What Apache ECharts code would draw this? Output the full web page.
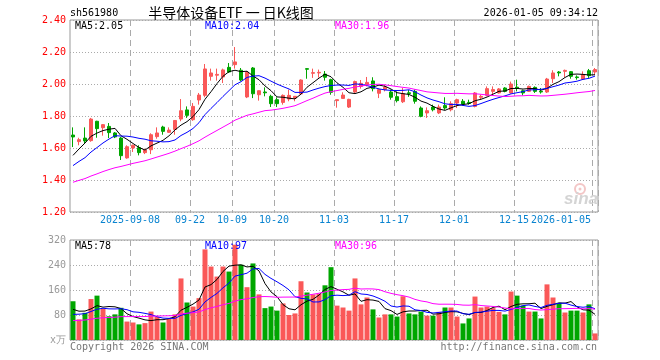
<!DOCTYPE html>
<html><head><meta charset="utf-8">
<script src="https://cdn.jsdelivr.net/npm/echarts@6/dist/echarts.min.js"></script>
<style>html,body{margin:0;padding:0;background:#fff}#c{width:660px;height:360px}</style>
</head><body><div id="c"></div><script>
const dates = [
'2025-08-25','2025-08-26','2025-08-27','2025-08-28','2025-08-29',
'2025-09-01','2025-09-02','2025-09-03','2025-09-04','2025-09-05',
'2025-09-08','2025-09-09','2025-09-10','2025-09-11','2025-09-12',
'2025-09-15','2025-09-16','2025-09-17','2025-09-18','2025-09-19',
'2025-09-22','2025-09-23','2025-09-24','2025-09-25','2025-09-26',
'2025-09-29','2025-09-30','2025-10-09','2025-10-10',
'2025-10-13','2025-10-14','2025-10-15','2025-10-16','2025-10-17',
'2025-10-20','2025-10-21','2025-10-22','2025-10-23','2025-10-24',
'2025-10-27','2025-10-28','2025-10-29','2025-10-30','2025-10-31',
'2025-11-03','2025-11-04','2025-11-05','2025-11-06','2025-11-07',
'2025-11-10','2025-11-11','2025-11-12','2025-11-13','2025-11-14',
'2025-11-17','2025-11-18','2025-11-19','2025-11-20','2025-11-21',
'2025-11-24','2025-11-25','2025-11-26','2025-11-27','2025-11-28',
'2025-12-01','2025-12-02','2025-12-03','2025-12-04','2025-12-05',
'2025-12-08','2025-12-09','2025-12-10','2025-12-11','2025-12-12',
'2025-12-15','2025-12-16','2025-12-17','2025-12-18','2025-12-19',
'2025-12-22','2025-12-23','2025-12-24','2025-12-25','2025-12-26',
'2025-12-29','2025-12-30','2025-12-31','2026-01-05'];

const opens = [1.681,1.640,1.662,1.646,1.767,1.727,1.735,1.694,1.662,1.538,
1.600,1.602,1.571,1.589,1.671,1.731,1.698,1.716,1.781,1.838,
1.777,1.900,1.929,2.048,2.055,2.044,2.104,2.121,2.086,1.919,
2.100,1.933,1.950,1.923,1.902,1.885,1.906,1.913,1.938,2.096,
2.067,2.069,2.062,2.027,1.896,1.910,1.856,1.950,1.985,1.996,
2.019,1.942,1.965,1.950,1.921,1.889,1.945,1.954,1.850,1.819,
1.856,1.819,1.865,1.839,1.881,1.892,1.885,1.860,1.917,1.929,
1.954,1.944,1.975,1.944,1.980,1.958,1.954,1.979,1.954,1.950,
2.033,2.075,2.079,2.077,2.044,2.031,2.083,2.075];
const closes = [1.669,1.652,1.644,1.781,1.721,1.746,1.696,1.669,1.552,1.608,
1.617,1.571,1.588,1.683,1.694,1.704,1.712,1.772,1.833,1.804,
1.860,1.931,2.094,2.069,2.060,2.088,2.075,2.138,2.025,2.073,
1.939,1.958,1.945,1.877,1.877,1.929,1.929,1.923,2.025,2.092,
2.071,2.073,2.042,1.948,1.902,1.931,1.904,2.015,2.004,2.010,
1.971,1.965,1.980,1.917,1.896,1.940,1.940,1.892,1.798,1.833,
1.839,1.856,1.850,1.877,1.902,1.875,1.879,1.944,1.923,1.971,
1.965,1.969,1.954,2.000,1.975,1.944,1.985,1.954,1.950,2.031,
2.069,2.069,2.085,2.048,2.040,2.058,2.052,2.090];
const lows = [1.606,1.617,1.631,1.639,1.664,1.677,1.662,1.662,1.525,1.533,
1.575,1.554,1.562,1.562,1.658,1.683,1.694,1.683,1.767,1.788,
1.770,1.871,1.917,2.021,2.021,2.006,2.069,2.096,2.017,1.912,
1.912,1.896,1.923,1.856,1.856,1.871,1.892,1.892,1.933,2.033,
2.038,2.040,2.021,1.933,1.852,1.910,1.850,1.944,1.971,1.985,
1.954,1.912,1.954,1.902,1.885,1.881,1.920,1.877,1.792,1.788,
1.829,1.812,1.839,1.829,1.850,1.865,1.871,1.854,1.902,1.923,
1.933,1.940,1.948,1.940,1.954,1.929,1.950,1.944,1.940,1.944,
2.006,2.048,2.042,2.033,2.027,2.027,2.038,2.058];
const highs = [1.729,1.664,1.729,1.788,1.770,1.750,1.756,1.700,1.669,1.617,
1.621,1.617,1.596,1.692,1.729,1.739,1.729,1.775,1.906,1.860,
1.881,1.944,2.125,2.096,2.096,2.096,2.131,2.231,2.100,2.081,
2.106,1.960,1.979,1.933,1.917,1.935,1.965,1.923,2.029,2.100,
2.096,2.090,2.081,2.033,1.902,1.948,1.908,2.021,2.025,2.044,
2.042,1.971,1.996,1.965,1.954,1.975,1.962,1.965,1.860,1.854,
1.871,1.871,1.917,1.892,1.908,1.906,1.902,1.950,1.933,1.985,
1.985,1.975,1.980,2.015,2.027,1.965,1.990,1.985,1.975,2.038,
2.086,2.081,2.090,2.081,2.054,2.079,2.094,2.100];
const volumes = [124,66,87,131,142,100,76,82,103,59,
56,50,54,91,74,56,68,82,197,120,
107,134,290,235,203,235,219,305,241,169,
245,146,102,107,94,117,80,85,188,152,
146,148,175,233,110,104,94,197,114,136,
98,72,82,82,75,140,85,82,91,78,
78,90,104,104,75,53,69,139,104,107,
102,90,82,155,142,110,91,91,69,178,
136,119,88,94,94,88,114,21];
// closes / volumes of the 29 sessions before the first candle (estimated from where the MA lines start)
const priorCloses = [1.30,1.31,1.30,1.32,1.31,1.32,1.33,1.31,1.32,1.326,
1.33,1.34,1.35,1.34,1.36,1.35,1.36,1.37,1.36,1.374,
1.39,1.41,1.43,1.44,1.46,1.452,1.459,1.571,1.619];
const priorVolumes = [45,50,48,55,52,50,58,47,53,56,49,51,54,57,50,52,55,48,54,56,
60,70,62,68,70,95,85,96,90];

const labelDates = ['2025-09-08','2025-09-22','2025-10-09','2025-10-20','2025-11-03','2025-11-17','2025-12-01','2025-12-15','2026-01-05'];
const labelTexts = ['2025-09-08','09-22','10-09','10-20','11-03','11-17','12-01','12-15','2026-01-05'];
const priceAxis = {min:1.2, max:2.4, step:0.2};
const volAxis = {min:0, max:320, step:80};
const maLabelsPrice = ['MA5:2.05','MA10:2.04','MA30:1.96'];
const maLabelsVol = ['MA5:78','MA10:97','MA30:96'];
const header = {code:'sh561980', title:'半导体设备ETF 一 日K线图', time:'2026-01-05 09:34:12'};

function movingAvg(values, prior, n){
  const all = prior.concat(values);
  return values.map((_, i) => {
    const end = prior.length + i + 1;
    let s = 0;
    for (let k = end - n; k < end; k++) s += all[k];
    return +(s / n).toFixed(4);
  });
}

const RED = '#fa5858', GREEN = '#00a600';
const MONO = '"DejaVu Sans Mono", monospace';
const maColors = ['#000000', '#0000ff', '#ff00ff'];
const isLabel = (i, v) => labelDates.indexOf(v) >= 0;

const candleData = dates.map((d, i) => [opens[i], closes[i], lows[i], highs[i]]);
const volData = volumes.map((v, i) => ({value: v, itemStyle: {color: closes[i] >= opens[i] ? RED : GREEN}}));
const pMA = [5, 10, 30].map(n => movingAvg(closes, priorCloses, n));
const vMA = [5, 10, 30].map(n => movingAvg(volumes, priorVolumes, n));

const chart = echarts.init(document.getElementById('c'), null, {renderer: 'canvas'});

const xBase = (gi, showLabel) => ({
  type: 'category', gridIndex: gi, data: dates, boundaryGap: true,
  axisLine: {show: false}, axisTick: {show: false},
  axisLabel: showLabel ? {
    show: true, interval: isLabel, margin: 3,
    formatter: v => {
      const k = labelDates.indexOf(v);
      return (k === labelDates.length - 1 ? '{e|' : '{m|') + labelTexts[k] + '}';
    },
    rich: {
      m: {fontFamily: MONO, fontSize: 10, color: '#0a84d0', padding: [0, 6, 0, 0]},
      e: {fontFamily: MONO, fontSize: 10, color: '#0a84d0', padding: [0, 68, 0, 0]}
    }
  } : {show: false},
  splitLine: {show: true, interval: isLabel, lineStyle: {color: '#aaaaaa', width: 1, type: [6, 4]}}
});

const lineSeries = (arr, xi, color) => ({
  type: 'line', xAxisIndex: xi, yAxisIndex: xi, data: arr, showSymbol: false, symbol: 'none',
  lineStyle: {color: color, width: 1}, itemStyle: {color: color}, z: 5, silent: true
});

const txt = (x, y, text, fill, align, font) => ({
  type: 'text', z: 100, style: {x: x, y: y, text: text, fill: fill, textAlign: align || 'left', textVerticalAlign: 'middle', font: font || ('10px ' + MONO)}
});

chart.setOption({
  animation: false,
  backgroundColor: '#ffffff',
  grid: [
    {left: 70, top: 20, width: 528, height: 192, show: true, borderColor: '#999999', borderWidth: 1, backgroundColor: 'transparent'},
    {left: 70, top: 240, width: 528, height: 100, show: true, borderColor: '#999999', borderWidth: 1, backgroundColor: 'transparent'}
  ],
  xAxis: [xBase(0, true), xBase(1, false)],
  yAxis: [
    {type: 'value', gridIndex: 0, min: priceAxis.min, max: priceAxis.max, interval: priceAxis.step,
     axisLine: {show: false}, axisTick: {show: false},
     axisLabel: {margin: 4, color: '#ff0000', fontFamily: MONO, fontSize: 10, formatter: v => v.toFixed(2)},
     splitLine: {lineStyle: {color: '#aaaaaa', type: [1, 2]}}},
    {type: 'value', gridIndex: 1, min: volAxis.min, max: volAxis.max, interval: volAxis.step,
     axisLine: {show: false}, axisTick: {show: false},
     axisLabel: {margin: 4, color: '#999999', fontFamily: MONO, fontSize: 10, formatter: v => v === 0 ? 'x万' : String(v)},
     splitLine: {lineStyle: {color: '#aaaaaa', type: [1, 2]}}}
  ],
  series: [
    {type: 'candlestick', xAxisIndex: 0, yAxisIndex: 0, data: candleData, barWidth: 4,
     itemStyle: {color: RED, color0: GREEN, borderColor: RED, borderColor0: GREEN, borderWidth: 1}},
    lineSeries(pMA[0], 0, maColors[0]), lineSeries(pMA[1], 0, maColors[1]), lineSeries(pMA[2], 0, maColors[2]),
    {type: 'bar', xAxisIndex: 1, yAxisIndex: 1, data: volData, barWidth: 5},
    lineSeries(vMA[0], 1, maColors[0]), lineSeries(vMA[1], 1, maColors[1]), lineSeries(vMA[2], 1, maColors[2])
  ],
  graphic: [
    txt(70, 13, header.code, '#000'),
    txt(231, 13, header.title, '#000', 'center', '14px "Noto Sans CJK SC"'),
    txt(598, 13, header.time, '#000', 'right'),
    txt(75, 26, maLabelsPrice[0], maColors[0]),
    txt(205, 26, maLabelsPrice[1], maColors[1]),
    txt(335, 26, maLabelsPrice[2], maColors[2]),
    txt(75, 246, maLabelsVol[0], maColors[0]),
    txt(205, 246, maLabelsVol[1], maColors[1]),
    txt(335, 246, maLabelsVol[2], maColors[2]),
    txt(70, 347, 'Copyright 2026 SINA.COM', '#777777'),
    txt(597, 347, 'http://finance.sina.com.cn', '#777777', 'right'),
    {type: 'circle', z: 1, shape: {cx: 580, cy: 189, r: 5}, style: {fill: 'none', stroke: '#f3c6c6', lineWidth: 2}},
    {type: 'circle', z: 1, shape: {cx: 580, cy: 189, r: 1.5}, style: {fill: '#f3c6c6'}},
    {type: 'text', z: 1, style: {x: 581, y: 199, text: 'sina', fill: '#d4d4d4', textAlign: 'center', textVerticalAlign: 'middle', font: 'italic bold 17px "Liberation Sans"'}}
  ]
});
</script></body></html>
